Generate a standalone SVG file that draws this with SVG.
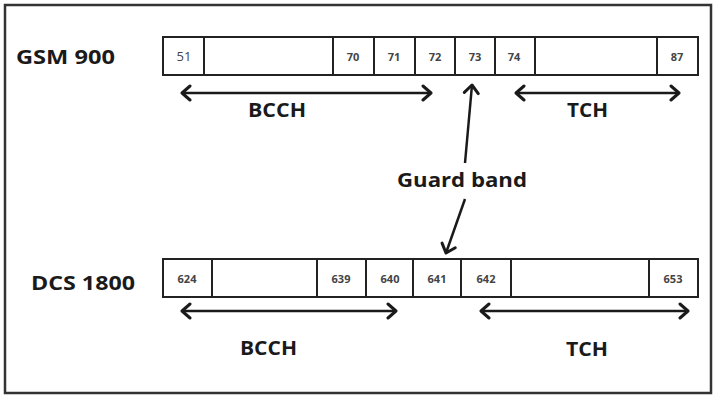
<svg xmlns="http://www.w3.org/2000/svg" width="720" height="403" viewBox="0 0 720 403">
<defs>
<marker id="head" viewBox="-12 -9 14 18" markerWidth="14" markerHeight="18" refX="0" refY="0" orient="auto-start-reverse" markerUnits="userSpaceOnUse">
<path d="M-8,-7 L0,0 L-8,7" fill="none" stroke="#1a1a1a" stroke-width="3" stroke-linecap="round" stroke-linejoin="round"/>
</marker>
</defs>
<style>
.frame{fill:#fff;stroke:#333;stroke-width:2.5}
.cell{fill:#fff;stroke:#222;stroke-width:2}
.lbl{font-family:"Open Sans","Noto Sans","Liberation Sans",sans-serif;font-weight:bold;font-size:20px;fill:#1a1a1a}
.num{font-family:"Open Sans","Noto Sans","Liberation Sans",sans-serif;font-weight:bold;font-size:11px;fill:#444;text-anchor:middle}
.conn{fill:none;stroke:#1a1a1a;stroke-width:2.5}
</style>
<rect class="frame" x="5" y="5" width="706" height="388"/>

<g id="gsm900">
<text class="lbl" x="16" y="64" textLength="99" lengthAdjust="spacingAndGlyphs">GSM 900</text>
<rect class="cell" x="163" y="37" width="41" height="38"/>
<rect class="cell" x="204" y="37" width="129" height="38"/>
<rect class="cell" x="333" y="37" width="41" height="38"/>
<rect class="cell" x="374" y="37" width="41" height="38"/>
<rect class="cell" x="415" y="37" width="40" height="38"/>
<rect class="cell" x="455" y="37" width="40" height="38"/>
<rect class="cell" x="495" y="37" width="40" height="38"/>
<rect class="cell" x="535" y="37" width="122" height="38"/>
<rect class="cell" x="657" y="37" width="41" height="38"/>
<text class="num" x="184" y="61" style="font-weight:normal;font-size:13px">51</text>
<text class="num" x="353" y="61">70</text>
<text class="num" x="394" y="61">71</text>
<text class="num" x="435" y="61">72</text>
<text class="num" x="475" y="61">73</text>
<text class="num" x="514" y="61">74</text>
<text class="num" x="677" y="61">87</text>
</g>

<g id="dcs1800">
<text class="lbl" x="31" y="290" textLength="104" lengthAdjust="spacingAndGlyphs">DCS 1800</text>
<rect class="cell" x="163" y="259" width="49" height="38"/>
<rect class="cell" x="212" y="259" width="105" height="38"/>
<rect class="cell" x="317" y="259" width="49" height="38"/>
<rect class="cell" x="366" y="259" width="47" height="38"/>
<rect class="cell" x="413" y="259" width="48" height="38"/>
<rect class="cell" x="461" y="259" width="50" height="38"/>
<rect class="cell" x="511" y="259" width="138" height="38"/>
<rect class="cell" x="649" y="259" width="49" height="38"/>
<text class="num" x="187" y="283">624</text>
<text class="num" x="341" y="283">639</text>
<text class="num" x="390" y="283">640</text>
<text class="num" x="437" y="283">641</text>
<text class="num" x="486" y="283">642</text>
<text class="num" x="673" y="283">653</text>
</g>

<g id="gsm-bcch"><text class="lbl" x="248" y="117" textLength="58" lengthAdjust="spacingAndGlyphs">BCCH</text></g>
<g id="gsm-tch"><text class="lbl" x="567" y="117" textLength="41" lengthAdjust="spacingAndGlyphs">TCH</text></g>
<g id="dcs-bcch"><text class="lbl" x="240" y="355" textLength="57" lengthAdjust="spacingAndGlyphs">BCCH</text></g>
<g id="dcs-tch"><text class="lbl" x="566" y="356" textLength="42" lengthAdjust="spacingAndGlyphs">TCH</text></g>
<g id="guard"><text class="lbl" x="397" y="187" textLength="130" lengthAdjust="spacingAndGlyphs">Guard band</text></g>

<g id="connectors">
<line class="conn" x1="182" y1="93" x2="431" y2="93" marker-start="url(#head)" marker-end="url(#head)"/>
<line class="conn" x1="516" y1="93" x2="679" y2="93" marker-start="url(#head)" marker-end="url(#head)"/>
<line class="conn" x1="182" y1="311" x2="396" y2="311" marker-start="url(#head)" marker-end="url(#head)"/>
<line class="conn" x1="481" y1="311" x2="688" y2="311" marker-start="url(#head)" marker-end="url(#head)"/>
<line class="conn" x1="465" y1="163" x2="472" y2="85" marker-end="url(#head)"/>
<line class="conn" x1="465" y1="199" x2="446" y2="253" marker-end="url(#head)"/>
</g>
</svg>
